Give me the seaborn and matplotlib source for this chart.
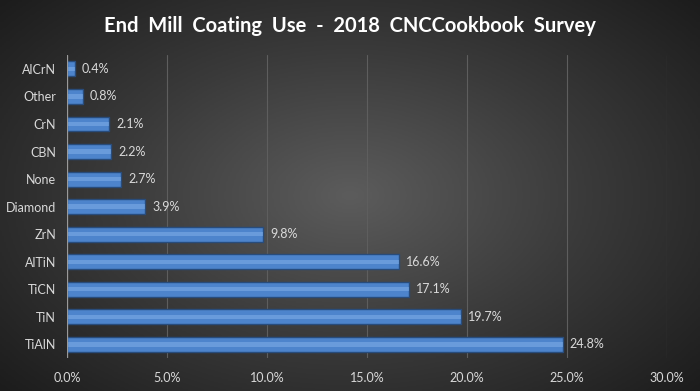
import matplotlib.pyplot as plt
import seaborn as sns
import numpy as np
import pandas as pd
from matplotlib.colors import LinearSegmentedColormap

coatings = ['AlCrN', 'Other', 'CrN', 'CBN', 'None', 'Diamond', 'ZrN', 'AlTiN', 'TiCN', 'TiN', 'TiAlN']
share = [0.4, 0.8, 2.1, 2.2, 2.7, 3.9, 9.8, 16.6, 17.1, 19.7, 24.8]
ticks = [0, 5, 10, 15, 20, 25, 30]

df = pd.DataFrame({'coating': coatings, 'share': share})

sns.set_style('dark')
plt.rcParams['font.family'] = ['Lato', 'DejaVu Sans']

fig = plt.figure(figsize=(7, 3.91), dpi=100)

# radial gradient background
bg = fig.add_axes([0, 0, 1, 1])
yy, xx = np.mgrid[-1:1:200j, -1:1:350j]
r = np.sqrt(xx**2 + (yy * 0.9)**2)
cmap = LinearSegmentedColormap.from_list('bg', ['#5c5c5c', '#3a3a3a', '#1c1c1c'])
bg.imshow(r, cmap=cmap, vmin=0, vmax=1.35, aspect='auto', extent=[0, 1, 0, 1])
bg.set_axis_off()

ax = fig.add_axes([0.0957, 0.084, 0.857, 0.775])
ax.patch.set_alpha(0)
sns.barplot(data=df, y='coating', x='share', color='#4d84cc', edgecolor='#284c7c',
            linewidth=1, width=0.54, saturation=1, ax=ax)
# lighter strip to mimic the bevel highlight
sns.barplot(data=df, y='coating', x='share', color='#8cb8ee', edgecolor='none',
            width=0.16, saturation=1, alpha=0.45, ax=ax)

for i, v in enumerate(share):
    ax.text(v + 0.35, i, f'{v:.1f}%', color='#d9d9d9', fontsize=9, va='center', ha='left')

ax.set_xlim(0, 30)
ax.set_xticks(ticks)
ax.set_xticklabels([f'{t:.1f}%' for t in ticks], color='#d9d9d9', fontsize=9)
ax.tick_params(axis='y', colors='#d9d9d9', labelsize=9, length=0, pad=8)
ax.tick_params(axis='x', length=0, pad=10)
ax.set_xlabel('')
ax.set_ylabel('')
ax.grid(axis='x', color='#5e5e5e', linewidth=0.8)
ax.grid(axis='y', visible=False)
for s in ax.spines.values():
    s.set_visible(False)
ax.axvline(0, color='#9a9a9a', linewidth=0.9)

fig.text(0.5, 0.933, 'End  Mill  Coating  Use  -  2018  CNCCookbook  Survey',
         ha='center', va='center', color='white', fontsize=14.5, fontweight='bold')

fig.savefig('out.png', dpi=100)
